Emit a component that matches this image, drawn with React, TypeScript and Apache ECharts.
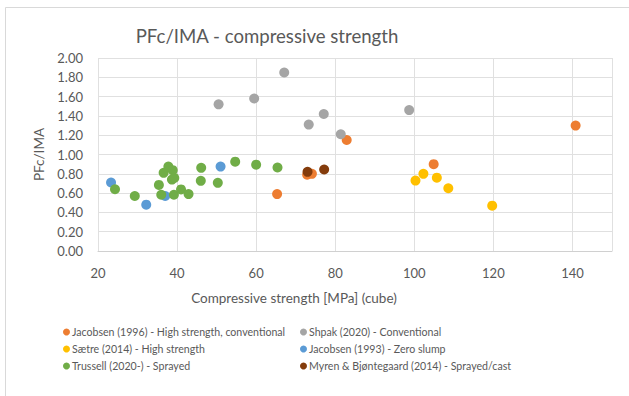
import React, { useEffect, useRef } from "react";
import * as echarts from "echarts";

const titleText = "PFc/IMA - compressive strength";
const xAxisTitle = "Compressive strength [MPa] (cube)";
const yAxisTitle = "PFc/IMA";

const seriesNames = [
  "Jacobsen (1996) - High strength, conventional",
  "Shpak (2020) - Conventional",
  "Sætre (2014) - High strength",
  "Jacobsen (1993) - Zero slump",
  "Trussell (2020-) - Sprayed",
  "Myren & Bjøntegaard (2014) - Sprayed/cast",
];
const seriesColors = ["#ED7D31", "#A5A5A5", "#FFC000", "#5B9BD5", "#70AD47", "#843C0C"];

const jacobsen1996 = [
  [65.3, 0.59], [72.9, 0.79], [74.1, 0.8], [82.9, 1.15], [104.9, 0.9], [140.8, 1.3],
];
const shpak2020 = [
  [50.5, 1.52], [59.5, 1.58], [67.1, 1.85], [73.3, 1.31], [77.1, 1.42], [81.4, 1.21], [98.7, 1.46],
];
const saetre2014 = [
  [100.3, 0.73], [102.3, 0.8], [105.7, 0.76], [108.6, 0.65], [119.7, 0.47],
];
const jacobsen1993 = [
  [23.3, 0.71], [32.2, 0.48], [37.0, 0.57], [51.0, 0.875],
];
const trussell2020 = [
  [24.3, 0.64], [29.3, 0.57], [35.4, 0.685], [36.0, 0.583], [36.6, 0.81], [37.8, 0.875],
  [38.9, 0.838], [38.7, 0.74], [39.3, 0.757], [39.2, 0.583], [41.0, 0.638], [42.9, 0.59],
  [46.1, 0.862], [46.0, 0.727], [50.3, 0.706], [54.7, 0.926], [60.0, 0.895], [65.4, 0.865],
];
const myren2014 = [
  [73.0, 0.82], [77.2, 0.845],
];

const seriesData = [jacobsen1996, shpak2020, saetre2014, jacobsen1993, trussell2020, myren2014];

const xMin = 20;
const xMax = 150;
const xInterval = 20;
const yMin = 0;
const yMax = 2;
const yInterval = 0.2;

const FONT = "Lato, 'Open Sans', sans-serif";
const TXT = "#595959";

export default function App() {
  const ref = useRef<HTMLDivElement>(null);
  useEffect(() => {
    if (!ref.current) return;
    const chart = echarts.init(ref.current, undefined, { renderer: "svg" });
    const legendItem = (names: string[], left: number) => ({
      orient: "vertical" as const,
      left,
      top: 320,
      data: names,
      icon: "circle",
      itemWidth: 7,
      itemHeight: 7,
      itemGap: 3,
      textStyle: { color: TXT, fontFamily: FONT, fontSize: 10.6, lineHeight: 14, padding: [0, 0, 0, -3] },
    });
    chart.setOption({
      animation: false,
      backgroundColor: "#ffffff",
      textStyle: { fontFamily: FONT },
      grid: { left: 98, right: 17, top: 58, bottom: 145, containLabel: false },
      xAxis: {
        type: "value",
        min: xMin,
        max: xMax,
        interval: xInterval,
        axisLine: { show: true, lineStyle: { color: "#d0d0d0", width: 1 } },
        axisTick: { show: false },
        axisLabel: { color: TXT, fontSize: 13, fontFamily: FONT, margin: 15, showMaxLabel: false },
        splitLine: { show: true, lineStyle: { color: "#e0e0e0", width: 1 } },
      },
      yAxis: {
        type: "value",
        min: yMin,
        max: yMax,
        interval: yInterval,
        name: yAxisTitle,
        nameLocation: "middle",
        nameGap: 45,
        nameTextStyle: { color: TXT, fontSize: 13.5, fontFamily: FONT },
        axisLine: { show: false },
        axisTick: { show: false },
        axisLabel: {
          color: TXT,
          fontSize: 13,
          fontFamily: FONT,
          margin: 15,
          formatter: (v: number) => v.toFixed(2),
        },
        splitLine: { show: true, lineStyle: { color: "#e0e0e0", width: 1 } },
      },
      legend: [
        legendItem([seriesNames[0], seriesNames[2], seriesNames[4]], 58),
        legendItem([seriesNames[1], seriesNames[3], seriesNames[5]], 295),
      ],
      graphic: [
        {
          type: "rect",
          silent: true,
          shape: { x: 5.5, y: 7.5, width: 700, height: 500 },
          style: { fill: "none", stroke: "#d9d9d9", lineWidth: 1 },
        },
        {
          type: "text",
          x: 267,
          y: 36,
          style: {
            text: titleText,
            fill: TXT,
            font: `18.6px ${FONT}`,
            textAlign: "center",
            textVerticalAlign: "middle",
          },
        },
        {
          type: "text",
          x: 294,
          y: 298,
          style: {
            text: xAxisTitle,
            fill: TXT,
            font: `13.5px ${FONT}`,
            textAlign: "center",
            textVerticalAlign: "middle",
          },
        },
      ],
      series: seriesData.map((d, i) => ({
        name: seriesNames[i],
        type: "scatter",
        data: d,
        symbol: "circle",
        symbolSize: 10,
        itemStyle: { color: seriesColors[i], opacity: 1 },
        emphasis: { disabled: true },
      })),
    });
    return () => chart.dispose();
  }, []);
  return (
    <div
      ref={ref}
      style={{ position: "fixed", left: 0, top: 0, width: 629, height: 396, background: "#fff" }}
    />
  );
}
